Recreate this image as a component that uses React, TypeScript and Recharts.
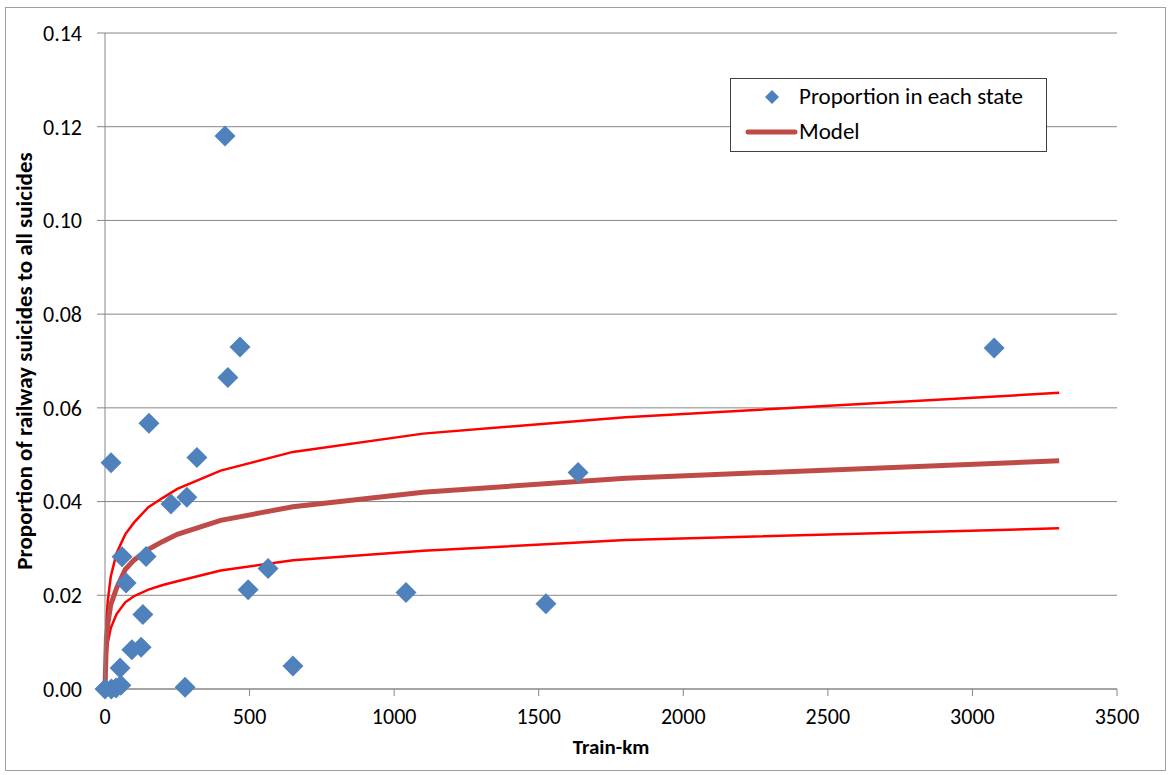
import { ComposedChart, Scatter, Line, XAxis, YAxis, CartesianGrid } from 'recharts';

// observed share per state (train-km, proportion)
const stateKm = [0, 22, 38, 55, 21, 52, 59, 73, 93, 125, 131, 142, 152, 228, 283, 318, 277, 415, 425, 467, 495, 564, 650, 1041, 1525, 1636, 3075];
const stateShare = [0, 0, 0.0002, 0.0008, 0.0483, 0.0045, 0.0282, 0.0226, 0.0084, 0.0089, 0.0159, 0.0283, 0.0567, 0.0395, 0.0409, 0.0494, 0.0004, 0.118, 0.0665, 0.073, 0.0212, 0.0257, 0.0049, 0.0206, 0.0182, 0.0462, 0.0728];

// model curve and its band
const modelKm = [0, 5, 10, 20, 40, 70, 100, 150, 200, 250, 400, 650, 1100, 1800, 3300];
const modelMid = [0, 0.011, 0.014, 0.018, 0.0215, 0.0255, 0.0275, 0.0298, 0.0315, 0.033, 0.036, 0.0389, 0.042, 0.045, 0.0487];
const modelUpper = [0, 0.015, 0.019, 0.024, 0.029, 0.033, 0.0355, 0.0388, 0.0408, 0.0427, 0.0466, 0.0506, 0.0545, 0.058, 0.0632];
const modelLower = [0, 0.007, 0.01, 0.013, 0.016, 0.0185, 0.0198, 0.0212, 0.0222, 0.023, 0.0253, 0.0275, 0.0295, 0.0318, 0.0343];

const xTicks = [0, 500, 1000, 1500, 2000, 2500, 3000, 3500];
const yTicks = [0, 0.02, 0.04, 0.06, 0.08, 0.1, 0.12, 0.14];

const FONT = 'Calibri, Carlito, Lato, sans-serif';
const AXIS = '#868686';

const points = stateKm.map((x, i) => ({ x, y: stateShare[i] }));
const toLine = (vals: number[]) => modelKm.map((x, i) => ({ x, y: vals[i] }));

const Diamond = (props: any) => {
  const { cx, cy } = props;
  const r = 10.5;
  return (
    <path
      d={`M${cx},${cy - r}L${cx + r},${cy}L${cx},${cy + r}L${cx - r},${cy}Z`}
      fill="#4F81BD"
    />
  );
};

function LegendBox() {
  return (
    <div
      style={{
        position: 'absolute',
        left: 730,
        top: 78,
        width: 315,
        height: 72,
        border: '1px solid #404040',
        background: '#fff',
        fontFamily: FONT,
        fontSize: 23,
        lineHeight: '28px',
        color: '#000',
      }}
    >
      <svg width={70} height={72} style={{ position: 'absolute', left: 0, top: 0 }}>
        <path d="M41,11L48,18L41,25L34,18Z" fill="#4F81BD" />
        <line x1={17} y1={53} x2={64} y2={53} stroke="#BE4B48" strokeWidth={5} strokeLinecap="round" />
      </svg>
      <div style={{ position: 'absolute', left: 68, top: 3 }}>Proportion in each state</div>
      <div style={{ position: 'absolute', left: 68, top: 38 }}>Model</div>
    </div>
  );
}

export default function App() {
  return (
    <div style={{ position: 'absolute', left: 0, top: 0, width: 1169, height: 775, background: '#fff' }}>
      <div
        style={{
          position: 'absolute',
          left: 5,
          top: 7,
          width: 1159,
          height: 762,
          border: '1px solid #a0a0a0',
        }}
      />
      <ComposedChart
        width={1169}
        height={775}
        margin={{ top: 33, right: 52, bottom: 26, left: 5 }}
        style={{ position: 'absolute', left: 0, top: 0 }}
      >
        <CartesianGrid vertical={false} stroke={AXIS} strokeWidth={1} />
        <XAxis
          type="number"
          dataKey="x"
          domain={[0, 3500]}
          ticks={xTicks}
          interval={0}
          height={60}
          stroke={AXIS}
          tickSize={7}
          tickMargin={12}
          tick={{ fontSize: 22, fill: '#000', fontFamily: FONT }}
          label={{
            value: 'Train-km',
            position: 'insideBottom',
            offset: -5,
            style: { fontSize: 21, fontWeight: 700, fill: '#000', fontFamily: FONT },
          }}
        />
        <YAxis
          type="number"
          dataKey="y"
          domain={[0, 0.14]}
          ticks={yTicks}
          interval={0}
          width={100}
          stroke={AXIS}
          tickSize={8}
          tickMargin={15}
          tickFormatter={(v: number) => v.toFixed(2)}
          tick={{ fontSize: 22, fill: '#000', fontFamily: FONT }}
          label={{
            value: 'Proportion  of railway suicides to all suicides',
            angle: -90,
            position: 'insideLeft',
            offset: 19,
            style: { fontSize: 23, fontWeight: 700, fill: '#000', fontFamily: FONT, textAnchor: 'middle' },
          }}
        />
        <Line data={toLine(modelUpper)} dataKey="y" type="linear" stroke="#FF0000" strokeWidth={2.5} dot={false} isAnimationActive={false} />
        <Line data={toLine(modelLower)} dataKey="y" type="linear" stroke="#FF0000" strokeWidth={2.5} dot={false} isAnimationActive={false} />
        <Line data={toLine(modelMid)} dataKey="y" type="linear" stroke="#BE4B48" strokeWidth={5} dot={false} isAnimationActive={false} />
        <Scatter data={points} dataKey="y" shape={Diamond} isAnimationActive={false} />
      </ComposedChart>
      <LegendBox />
    </div>
  );
}
